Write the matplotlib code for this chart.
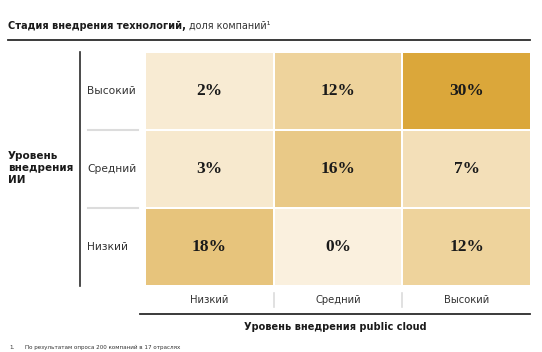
import numpy as np
import matplotlib
matplotlib.use("Agg")
from matplotlib import pyplot as plt
from matplotlib.colors import LinearSegmentedColormap
from matplotlib.transforms import blended_transform_factory
from matplotlib.lines import Line2D

# data: rows = AI adoption (top to bottom), cols = public cloud adoption
cloud_levels = ["Низкий", "Средний", "Высокий"]
ai_levels = ["Высокий", "Средний", "Низкий"]
share_high_ai = [2, 12, 30]
share_mid_ai = [3, 16, 7]
share_low_ai = [18, 0, 12]

title_bold = "Стадия внедрения технологий,"
title_rest = " доля компаний¹"
ylabel = "Уровень\nвнедрения\nИИ"
xlabel = "Уровень внедрения public cloud"
footnote = "По результатам опроса 200 компаний в 17 отраслях"

W, H = 542, 352
sans = ["DejaVu Sans"]
serif = ["Liberation Serif", "DejaVu Serif"]
dark = "#2b2b2b"

values = np.array([share_high_ai, share_mid_ai, share_low_ai])
cmap = LinearSegmentedColormap.from_list("gold", ["#faf0de", "#dba73a"])

fig = plt.figure(figsize=(W / 100, H / 100), dpi=100)

def px(x0, y0, x1, y1):
    # pixel box (top-left origin) -> figure fraction rect
    return [x0 / W, 1 - y1 / H, (x1 - x0) / W, (y1 - y0) / H]

ax = fig.add_axes(px(145, 52, 531, 286))
ax.pcolormesh(values, cmap=cmap, vmin=0, vmax=30, edgecolors="white", linewidth=1.2)
ax.set_xlim(0, 3)
ax.set_ylim(3, 0)
ax.axis("off")
for i in range(values.shape[0]):
    for j in range(values.shape[1]):
        ax.text(j + 0.5, i + 0.5, f"{values[i, j]}%", ha="center", va="center",
                fontsize=12.5, fontweight="bold", family=serif, color="#1a1a1a")

# row labels + light separators
ty = blended_transform_factory(fig.transFigure, ax.transData)
for i, lab in enumerate(ai_levels):
    fig.text(87 / W, i + 0.5, lab, transform=ty, ha="left", va="center",
             fontsize=7.7, family=sans, color="#333333")
for b in range(1, len(ai_levels)):
    fig.add_artist(Line2D([88 / W, 138 / W], [b, b], transform=ty,
                          color="#dcdcdc", lw=1.5))

# column labels + light separators
tx = blended_transform_factory(ax.transData, fig.transFigure)
for j, lab in enumerate(cloud_levels):
    fig.text(j + 0.5, 1 - 300 / H, lab, transform=tx, ha="center", va="center",
             fontsize=7.2, family=sans, color="#333333")
for b in range(1, len(cloud_levels)):
    fig.add_artist(Line2D([b, b], [1 - 293 / H, 1 - 307 / H], transform=tx,
                          color="#dcdcdc", lw=1.2))

# structural lines
fig.add_artist(Line2D([8 / W, 530 / W], [1 - 39.5 / H] * 2, color=dark, lw=1.3))
fig.add_artist(Line2D([80 / W] * 2, [1 - 52 / H, 1 - 286 / H], color=dark, lw=1.2))
fig.add_artist(Line2D([140 / W, 530 / W], [1 - 314 / H] * 2, color=dark, lw=1.3))

# titles
t1 = fig.text(8 / W, 1 - 26 / H, title_bold, ha="left", va="center",
              fontsize=7.0, fontweight="bold", family=sans, color="#1a1a1a")
fig.canvas.draw()
bb = t1.get_window_extent()
fig.text(bb.x1 / W / (fig.dpi / 100), 1 - 26 / H, title_rest, ha="left", va="center",
         fontsize=6.9, family=sans, color="#333333")

fig.text(8 / W, 1 - 168 / H, ylabel, ha="left", va="center", fontsize=7.5,
         fontweight="bold", family=sans, color="#1a1a1a", linespacing=1.25)
fig.text(335 / W, 1 - 327 / H, xlabel, ha="center", va="center", fontsize=7.0,
         fontweight="bold", family=sans, color="#1a1a1a")

fig.text(9 / W, 1 - 347.5 / H, "1.", ha="left", va="center", fontsize=4.1,
         family=sans, color="#333333")
fig.text(25 / W, 1 - 347.5 / H, footnote, ha="left", va="center", fontsize=4.1,
         family=sans, color="#333333")

fig.savefig("out.png", dpi=100)
